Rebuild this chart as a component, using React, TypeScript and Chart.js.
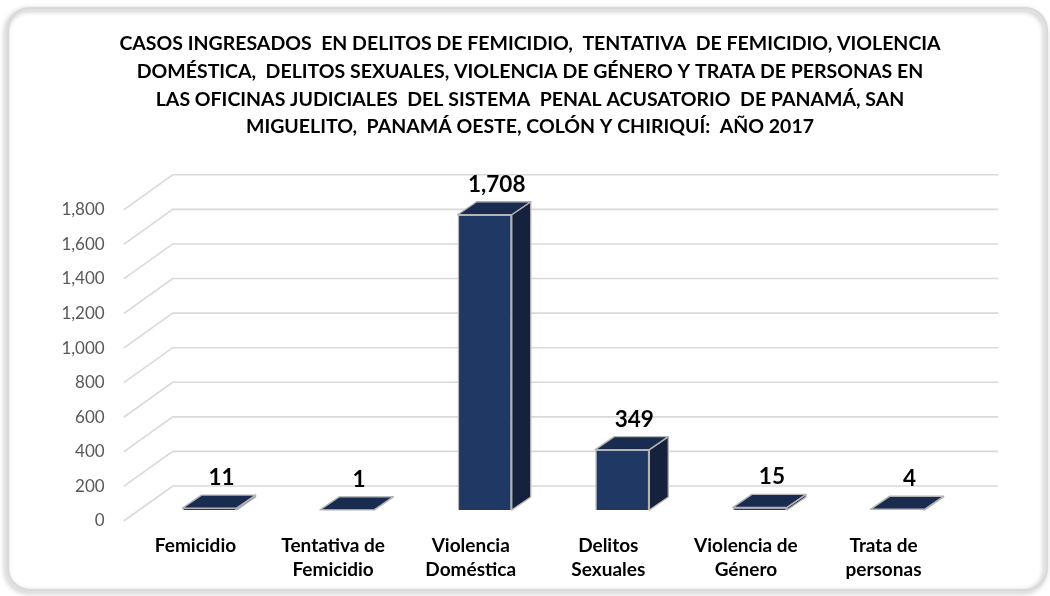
import React, { useEffect, useRef } from "react";
import { Chart, registerables } from "chart.js";

Chart.register(...registerables);

const TITLE_LINES = [
  "CASOS INGRESADOS  EN DELITOS DE FEMICIDIO,  TENTATIVA  DE FEMICIDIO, VIOLENCIA",
  "DOMÉSTICA,  DELITOS SEXUALES, VIOLENCIA DE GÉNERO Y TRATA DE PERSONAS EN",
  "LAS OFICINAS JUDICIALES  DEL SISTEMA  PENAL ACUSATORIO  DE PANAMÁ, SAN",
  "MIGUELITO,  PANAMÁ OESTE, COLÓN Y CHIRIQUÍ:  AÑO 2017",
];

const CATEGORIES = [
  ["Femicidio"],
  ["Tentativa de", "Femicidio"],
  ["Violencia", "Doméstica"],
  ["Delitos", "Sexuales"],
  ["Violencia de", "Género"],
  ["Trata de", "personas"],
];

const VALUES = [11, 1, 1708, 349, 15, 4];

const Y_MIN = 0;
const Y_MAX = 1800;
const Y_STEP = 200;

// 3D look
const SHIFT = { x: 14, y: -11 };
const DEPTH = { x: 19, y: -13 };
const WALL = { x: 46, y: -35 };

const FRONT = "#203864";
const SIDE = "#15213d";
const TOP = "#1a2b50";
const EDGE = "#b4b4b4";

export default function App() {
  const ref = useRef<HTMLCanvasElement>(null);

  useEffect(() => {
    const canvas = ref.current;
    if (!canvas) return;

    const framePlugin = {
      id: "frame",
      beforeDraw(chart: any) {
        const ctx = chart.ctx;
        ctx.save();
        ctx.fillStyle = "#ffffff";
        ctx.fillRect(0, 0, chart.width, chart.height);
        ctx.beginPath();
        ctx.roundRect(8, 8, 1039, 582, 22);
        ctx.shadowColor = "rgba(0,0,0,0.4)";
        ctx.shadowBlur = 5;
        ctx.shadowOffsetX = -2;
        ctx.shadowOffsetY = 2;
        ctx.strokeStyle = "#d9d9d9";
        ctx.lineWidth = 2;
        ctx.stroke();
        ctx.restore();
      },
    };

    const bar3dPlugin = {
      id: "bar3d",
      beforeDatasetsDraw(chart: any) {
        const { ctx, chartArea, scales } = chart;
        const y = scales.y;
        ctx.save();
        ctx.strokeStyle = "#d9d9d9";
        ctx.lineWidth = 1.6;
        y.ticks.forEach((t: any) => {
          const py = y.getPixelForValue(t.value);
          ctx.beginPath();
          ctx.moveTo(chartArea.left - 3, py);
          ctx.lineTo(chartArea.left + WALL.x, py + WALL.y);
          ctx.lineTo(chartArea.right + WALL.x, py + WALL.y);
          ctx.stroke();
        });
        ctx.restore();
        ctx.save();
        ctx.translate(SHIFT.x, SHIFT.y);
      },
      afterDatasetsDraw(chart: any) {
        const ctx = chart.ctx;
        const meta = chart.getDatasetMeta(0);
        ctx.lineWidth = 1.4;
        ctx.strokeStyle = EDGE;
        ctx.lineJoin = "round";
        meta.data.forEach((el: any, i: number) => {
          const { x, y, base, width } = el.getProps(["x", "y", "base", "width"], true);
          const l = x - width / 2;
          const r = x + width / 2;
          // side face
          ctx.beginPath();
          ctx.moveTo(r, y);
          ctx.lineTo(r + DEPTH.x, y + DEPTH.y);
          ctx.lineTo(r + DEPTH.x, base + DEPTH.y);
          ctx.lineTo(r, base);
          ctx.closePath();
          ctx.fillStyle = SIDE;
          ctx.fill();
          ctx.stroke();
          // top face
          ctx.beginPath();
          ctx.moveTo(l, y);
          ctx.lineTo(l + DEPTH.x, y + DEPTH.y);
          ctx.lineTo(r + DEPTH.x, y + DEPTH.y);
          ctx.lineTo(r, y);
          ctx.closePath();
          ctx.fillStyle = TOP;
          ctx.fill();
          ctx.stroke();
          // value label
          ctx.save();
          ctx.fillStyle = "#000000";
          ctx.font = "bold 22.5px Lato";
          ctx.textAlign = "center";
          ctx.textBaseline = "alphabetic";
          ctx.fillText(VALUES[i].toLocaleString("en-US"), x + 12, y + DEPTH.y - 10);
          ctx.restore();
        });
        ctx.restore();
      },
    };

    const chart = new Chart(canvas, {
      type: "bar",
      data: {
        labels: CATEGORIES,
        datasets: [
          {
            data: VALUES,
            backgroundColor: FRONT,
            borderColor: EDGE,
            borderWidth: 1.4,
            categoryPercentage: 0.393,
            barPercentage: 1,
            clip: false as any,
            yAxisID: "y",
          },
        ],
      },
      options: {
        responsive: false,
        animation: false,
        devicePixelRatio: 1,
        locale: "en-US",
        layout: { padding: { left: 10, right: 0, top: 0, bottom: 15 } },
        plugins: {
          legend: { display: false },
          tooltip: { enabled: false },
          title: {
            display: true,
            text: TITLE_LINES,
            color: "#000000",
            font: { family: "Lato", size: 19.5, weight: "bold", lineHeight: 27.7 / 19.5 },
            padding: { top: 30, bottom: 69 },
          },
        },
        scales: {
          x: {
            afterFit(s: any) {
              s.height = 60;
            },
            grid: { display: false, drawTicks: false },
            border: { display: false },
            ticks: {
              padding: 13,
              color: "#000000",
              maxRotation: 0,
              autoSkip: false,
              font: { family: "Lato", size: 19, weight: "bold", lineHeight: 24 / 19 },
            },
          },
          y: {
            position: "left",
            min: Y_MIN,
            max: Y_MAX,
            afterFit(s: any) {
              s.width = 116.7;
            },
            grid: { display: false, drawTicks: false },
            border: { display: false },
            ticks: {
              stepSize: Y_STEP,
              padding: 22,
              color: "#595959",
              font: { family: "Lato", size: 17 },
            },
          },
          yRight: {
            position: "right",
            min: Y_MIN,
            max: Y_MAX,
            afterFit(s: any) {
              s.width = 97.7;
            },
            grid: { display: false, drawTicks: false },
            border: { display: false },
            ticks: { display: false },
          },
        },
      },
      plugins: [framePlugin, bar3dPlugin],
    } as any);

    return () => chart.destroy();
  }, []);

  return (
    <div style={{ position: "fixed", left: 0, top: 0, width: 1050, height: 596, background: "#ffffff" }}>
      <canvas ref={ref} width={1050} height={596} style={{ display: "block" }} />
    </div>
  );
}
